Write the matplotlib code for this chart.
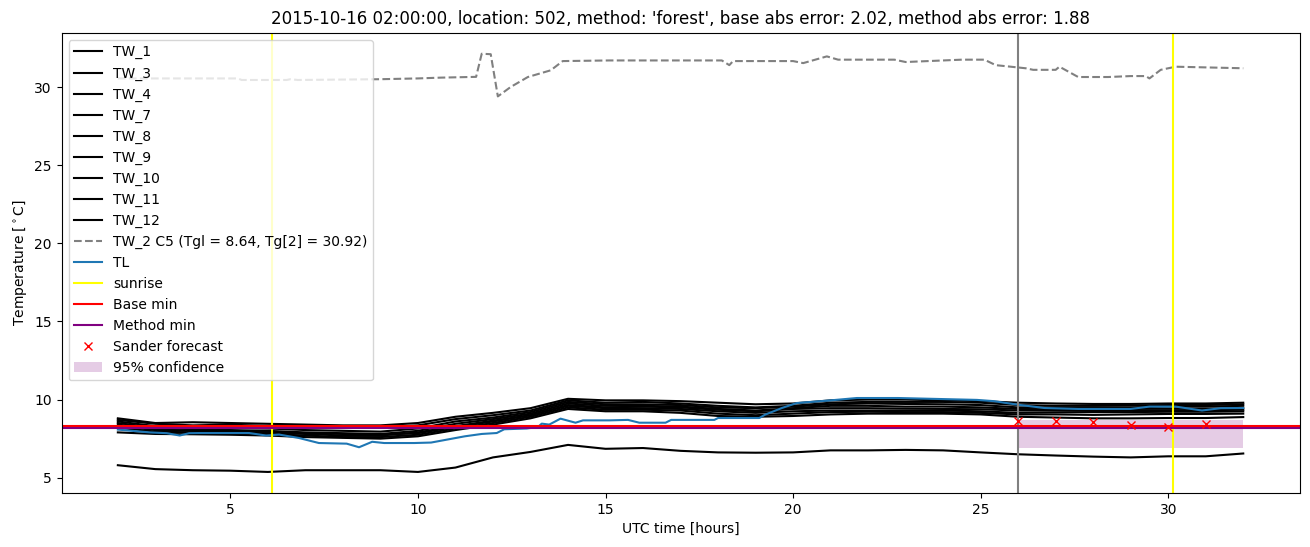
#!/usr/bin/env python3
"""
Grafico de temperaturas de pared (TW), temperatura del aire (TL) y
pronostico de la minima para la estacion 502.
"""

import matplotlib
matplotlib.use('Agg')
import matplotlib.pyplot as plt

# Horas UTC (cada hora) para las sondas TW
hours = list(range(2, 33))

tw_1 = [8.8, 8.5, 8.55, 8.5, 8.45, 8.4, 8.35, 8.35, 8.5, 8.9, 9.15, 9.45, 10.05, 9.95,
        9.95, 9.9, 9.8, 9.7, 9.75, 9.95, 10.0, 10.0, 9.95, 9.9, 9.8, 9.75, 9.72, 9.72,
        9.75, 9.75, 9.8]
tw_3 = [8.7, 8.45, 8.35, 8.4, 8.3, 8.25, 8.2, 8.2, 8.35, 8.75, 9.0, 9.3, 9.95, 9.8,
        9.85, 9.75, 9.6, 9.5, 9.6, 9.8, 9.85, 9.85, 9.85, 9.8, 9.65, 9.6, 9.6, 9.62,
        9.65, 9.65, 9.7]
tw_4 = [8.6, 8.3, 8.25, 8.2, 8.15, 8.05, 8.0, 7.95, 8.15, 8.6, 8.85, 9.2, 9.85, 9.7,
        9.7, 9.65, 9.5, 9.45, 9.55, 9.7, 9.75, 9.72, 9.7, 9.65, 9.5, 9.5, 9.5, 9.5,
        9.55, 9.55, 9.6]
tw_7 = [8.5, 8.2, 8.1, 8.05, 8.0, 7.9, 7.85, 7.8, 8.0, 8.45, 8.75, 9.1, 9.75, 9.6,
        9.6, 9.55, 9.4, 9.3, 9.45, 9.6, 9.6, 9.55, 9.55, 9.5, 9.4, 9.38, 9.38, 9.4,
        9.42, 9.42, 9.45]
tw_8 = [8.4, 8.1, 8.0, 7.95, 7.9, 7.8, 7.7, 7.7, 7.9, 8.3, 8.65, 9.0, 9.6, 9.45,
        9.45, 9.4, 9.25, 9.15, 9.25, 9.3, 9.3, 9.3, 9.3, 9.25, 9.15, 9.18, 9.2, 9.2,
        9.22, 9.22, 9.25]
tw_9 = [8.2, 7.95, 7.9, 7.85, 7.8, 7.7, 7.6, 7.6, 7.75, 8.15, 8.5, 8.9, 9.5, 9.35,
        9.35, 9.3, 9.1, 9.0, 9.1, 9.2, 9.22, 9.2, 9.2, 9.15, 9.05, 9.05, 9.02, 9.05,
        9.08, 9.08, 9.1]
tw_10 = [7.9, 7.8, 7.78, 7.75, 7.7, 7.6, 7.55, 7.5, 7.65, 8.05, 8.4, 8.8, 9.4, 9.25,
         9.25, 9.15, 8.95, 8.9, 8.95, 9.05, 9.1, 9.1, 9.1, 9.05, 8.9, 8.85, 8.8, 8.8,
         8.82, 8.82, 8.88]
tw_11 = [8.3, 8.05, 8.0, 8.0, 7.95, 7.85, 7.8, 7.75, 7.85, 8.25, 8.6, 9.0, 9.65, 9.5,
         9.55, 9.5, 9.35, 9.25, 9.4, 9.45, 9.45, 9.42, 9.4, 9.38, 9.3, 9.3, 9.28, 9.3,
         9.32, 9.32, 9.35]
tw_12 = [5.8, 5.55, 5.48, 5.45, 5.37, 5.48, 5.48, 5.48, 5.37, 5.65, 6.3, 6.65, 7.1, 6.85,
         6.9, 6.72, 6.62, 6.6, 6.62, 6.75, 6.75, 6.78, 6.75, 6.62, 6.5, 6.42, 6.35, 6.3,
         6.37, 6.37, 6.55]

tw_names = ['TW_1', 'TW_3', 'TW_4', 'TW_7', 'TW_8', 'TW_9', 'TW_10', 'TW_11', 'TW_12']
tw_series = [tw_1, tw_3, tw_4, tw_7, tw_8, tw_9, tw_10, tw_11, tw_12]

# Sonda TW_2 (C5), linea discontinua
tw2_hours = [2.0, 5.2, 5.3, 6.5, 6.6, 6.8, 9.0, 10.0, 10.6, 11.55, 11.7, 11.94, 12.13,
             12.47, 12.93, 13.54, 13.86, 15.1, 18.1, 18.3, 18.4, 20.0, 20.27, 20.9,
             21.2, 22.7, 23.0, 24.5, 25.1, 25.4, 26.2, 26.4, 27.0, 27.1, 27.6, 28.4,
             29.0, 29.4, 29.5, 29.8, 30.2, 32.0]
tw2_values = [30.55, 30.55, 30.45, 30.45, 30.5, 30.45, 30.5, 30.55, 30.6, 30.65, 32.13,
              32.1, 29.4, 30.0, 30.64, 31.07, 31.66, 31.7, 31.7, 31.4, 31.66, 31.66,
              31.53, 31.96, 31.75, 31.75, 31.6, 31.75, 31.75, 31.4, 31.2, 31.1, 31.1,
              31.3, 30.64, 30.64, 30.7, 30.7, 30.55, 31.1, 31.3, 31.2]
tw2_label = 'TW_2 C5 (Tgl = 8.64, Tg[2] = 30.92)'

# Temperatura del aire TL
tl_hours = [2.0, 2.85, 3.3, 3.65, 3.9, 4.2, 5.5, 5.95, 6.3, 6.83, 7.36, 8.1, 8.43, 8.78,
            9.1, 9.9, 10.35, 11.25, 11.7, 12.1, 12.3, 12.9, 13.2, 13.3, 13.5, 13.8, 14.2,
            14.4, 15.1, 15.6, 15.9, 16.6, 16.75, 17.9, 18.0, 19.1, 19.25, 19.7, 20.1,
            21.0, 21.7, 22.8, 24.9, 25.35, 26.0, 26.7, 27.6, 29.0, 29.5, 30.2, 30.9,
            31.4, 32.0]
tl_values = [8.08, 7.9, 7.85, 7.7, 7.85, 7.86, 7.86, 7.7, 7.76, 7.54, 7.22, 7.18, 6.95,
             7.3, 7.22, 7.22, 7.25, 7.65, 7.8, 7.86, 8.1, 8.15, 8.25, 8.46, 8.4, 8.78,
             8.52, 8.67, 8.67, 8.7, 8.52, 8.52, 8.7, 8.7, 8.82, 8.82, 9.03, 9.46, 9.78,
             9.95, 10.1, 10.1, 9.98, 9.9, 9.67, 9.46, 9.4, 9.4, 9.55, 9.55, 9.3, 9.45,
             9.46]

sunrise_hours = [6.12, 30.13]
forecast_start = 26.0
base_min = 8.32
method_min = 8.17

# Pronostico de Sander
sander_hours = [26, 27, 28, 29, 30, 31]
sander_values = [8.65, 8.65, 8.54, 8.4, 8.27, 8.46]

# Intervalo de confianza del 95 %
conf_hours = [26.0, 32.0]
conf_low = [6.88, 6.88]
conf_high = [8.67, 8.67]

title = ("2015-10-16 02:00:00, location: 502, method: 'forest', "
         "base abs error: 2.02, method abs error: 1.88")


def plot_chart():
    """
    Dibuja todas las series y guarda la figura.
    """
    fig, ax = plt.subplots(figsize=(13.1, 5.47), dpi=100)

    # Sondas TW en negro
    for name, values in zip(tw_names, tw_series):
        ax.plot(hours, values, color='black', label=name)

    ax.plot(tw2_hours, tw2_values, color='gray', linestyle='--', label=tw2_label)
    ax.plot(tl_hours, tl_values, color='C0', label='TL')

    # Amanecer (una sola etiqueta)
    for i, h in enumerate(sunrise_hours):
        ax.axvline(h, color='yellow', label='sunrise' if i == 0 else None)
    ax.axvline(forecast_start, color='gray')

    ax.axhline(base_min, color='red', label='Base min')
    ax.axhline(method_min, color='purple', label='Method min')

    ax.plot(sander_hours, sander_values, 'x', color='red', label='Sander forecast')
    ax.fill_between(conf_hours, conf_low, conf_high, color='purple', alpha=0.2,
                    linewidth=0, label='95% confidence')

    ax.set_xlabel('UTC time [hours]')
    ax.set_ylabel('Temperature [$^\\circ$C]')
    ax.set_title(title)
    ax.legend(loc='upper left')

    plt.subplots_adjust(left=0.047, right=0.992, top=0.94, bottom=0.099)
    plt.savefig('out.png', dpi=100)


def main():
    plot_chart()


if __name__ == "__main__":
    main()
